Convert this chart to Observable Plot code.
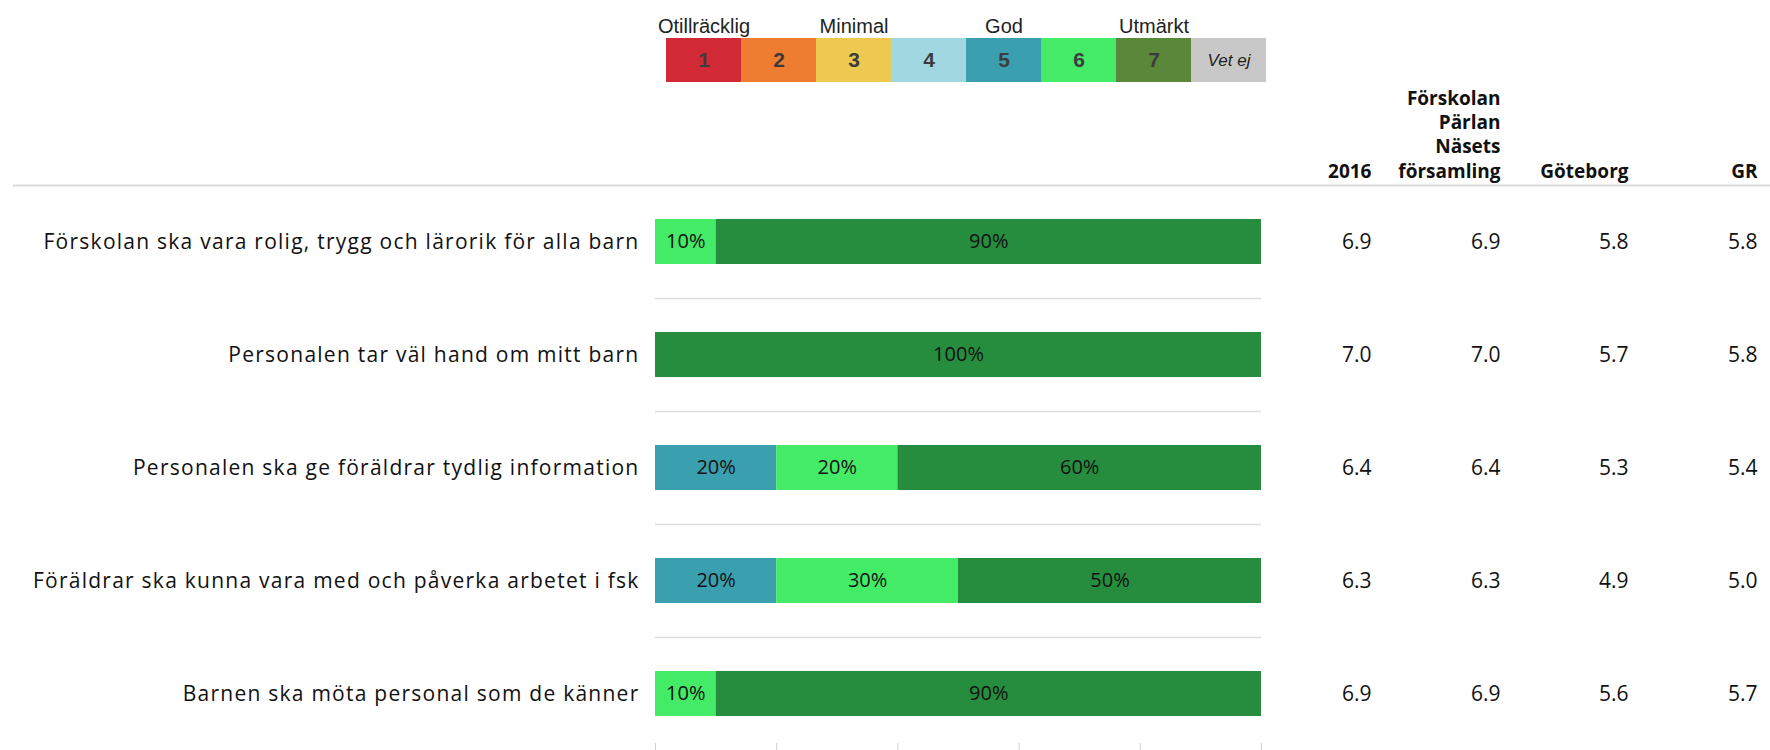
<!DOCTYPE html>
<html>
<head>
<meta charset="utf-8">
<script src="https://cdn.jsdelivr.net/npm/d3@7"></script>
<script src="https://cdn.jsdelivr.net/npm/@observablehq/plot@0.6"></script>
<style>
  body { margin: 0; background: #fff; }
  #wrap { position: relative; width: 1770px; height: 750px; overflow: hidden; }
  #main, #legend { position: absolute; top: 0; }
  #main { left: 0; }
  #legend { left: 664px; }
  svg { display: block; }
  g[aria-label="values"] text { letter-spacing: 1.6px; }
  g[aria-label="headers"] text { letter-spacing: 1.2px; }
  g[aria-label="y-axis tick label"] text { letter-spacing: 1.25px; }
</style>
</head>
<body>
<div id="wrap"><div id="main"></div><div id="legend"></div></div>
<script>
// ---- data ----
const questions = [
  "Förskolan ska vara rolig, trygg och lärorik för alla barn",
  "Personalen tar väl hand om mitt barn",
  "Personalen ska ge föräldrar tydlig information",
  "Föräldrar ska kunna vara med och påverka arbetet i fsk",
  "Barnen ska möta personal som de känner"
];
const grades = ["1", "2", "3", "4", "5", "6", "7", "Vet ej"];
const gradeColors  = ["#d12a36", "#ee7d31", "#edc951", "#9fd8e0", "#3a9fae", "#43eb67", "#268d3f", "#c8c8c8"];
const legendColors = ["#d12a36", "#ee7d31", "#edc951", "#9fd8e0", "#3a9fae", "#43eb67", "#5a873a", "#c8c8c8"];
const gradeNames = ["Otillräcklig", "Minimal", "God", "Utmärkt"];
const namedGrades = ["1", "3", "5", "7"];

const share5 = [0, 0, 20, 20, 0];
const share6 = [10, 0, 20, 30, 10];
const share7 = [90, 100, 60, 50, 90];

const values2016   = [6.9, 7.0, 6.4, 6.3, 6.9];
const valuesPerlan = [6.9, 7.0, 6.4, 6.3, 6.9];
const valuesGbg    = [5.8, 5.7, 5.3, 4.9, 5.6];
const valuesGR     = [5.8, 5.8, 5.4, 5.0, 5.7];
const columnHeaders = ["2016", "Förskolan\nPärlan\nNäsets\nförsamling", "Göteborg", "GR"];
const xTicks = [0, 20, 40, 60, 80, 100];

// ---- tables built from the arrays ----
const segments = [];
questions.forEach((q, i) => {
  [["5", share5], ["6", share6], ["7", share7]].forEach(([g, arr]) => {
    if (arr[i] > 0) segments.push({question: q, grade: g, share: arr[i]});
  });
});
const columnValues = [values2016, valuesPerlan, valuesGbg, valuesGR];
const rows = questions.map((q, i) => ({question: q, vals: columnValues.map(c => c[i])}));
const labelled = namedGrades.map((g, i) => ({grade: g, name: gradeNames[i]}));

// ---- layout ----
const W = 1770, H = 750, mTop = 184, mLeft = 655, mRight = 509;
const step = (H - mTop) / questions.length;
const colDx = [110, 239, 367, 496];

const colMarks = [];
columnValues.forEach((c, j) => {
  colMarks.push(Plot.text(rows, {
    y: "question", text: d => d.vals[j].toFixed(1), frameAnchor: "right",
    dx: colDx[j], textAnchor: "end", fontSize: 21, fill: "#111", ariaLabel: "values"
  }));
  colMarks.push(Plot.text([columnHeaders[j]], {
    text: d => d, frameAnchor: "top-right", dx: colDx[j], dy: -7,
    textAnchor: "end", lineAnchor: "bottom", lineHeight: 1.27,
    fontSize: 19, fontWeight: "bold", fill: "#111", ariaLabel: "headers"
  }));
});

const main = Plot.plot({
  width: W, height: H,
  marginTop: mTop, marginBottom: 0, marginLeft: mLeft, marginRight: mRight,
  style: {fontFamily: "'Open Sans', sans-serif", background: "white", overflow: "visible"},
  x: {domain: [0, 100], axis: null},
  y: {domain: questions, axis: null, paddingInner: 0.6025, paddingOuter: 0.30125},
  color: {domain: grades, range: gradeColors},
  marks: [
    Plot.ruleY([questions[0]], {dy: -step / 2, insetLeft: -642, insetRight: -mRight, stroke: "#d9d9d9", strokeWidth: 2}),
    Plot.ruleY(questions.slice(1), {dy: -step / 2, stroke: "#dddddd", strokeWidth: 1.5}),
    Plot.ruleX(xTicks, {insetTop: H - mTop - 7, stroke: "#d0d0d0"}),
    Plot.barX(segments, Plot.stackX({y: "question", x: "share", fill: "grade"})),
    Plot.text(segments, Plot.stackX({
      y: "question", x: "share", z: "grade", text: d => d.share + "%",
      fontSize: 20, fill: "#111"
    })),
    Plot.axisY({tickSize: 0, tickPadding: 16, fontSize: 21, fill: "#111", label: null}),
    ...colMarks
  ]
});
document.getElementById("main").appendChild(main);

const legend = Plot.plot({
  width: 603, height: 82,
  marginTop: 38, marginBottom: 0, marginLeft: 0, marginRight: 0,
  style: {background: "transparent", overflow: "visible", fontFamily: "'Liberation Sans Narrow', 'Liberation Sans', sans-serif"},
  x: {domain: grades, padding: 0, axis: null},
  color: {domain: grades, range: legendColors},
  marks: [
    Plot.cell(grades, {x: d => d, fill: d => d}),
    Plot.text(grades.slice(0, 7), {x: d => d, text: d => d, frameAnchor: "middle", fontSize: 21, fontWeight: "bold", fill: "#3c3c3c"}),
    Plot.text(grades.slice(7), {x: d => d, text: d => d, frameAnchor: "middle", fontSize: 17, fontStyle: "italic", fill: "#222"}),
    Plot.text(labelled, {x: "grade", text: "name", frameAnchor: "top", dy: -6, lineAnchor: "bottom", fontSize: 20, fill: "#222"})
  ]
});
document.getElementById("legend").appendChild(legend);
</script>
</body>
</html>
